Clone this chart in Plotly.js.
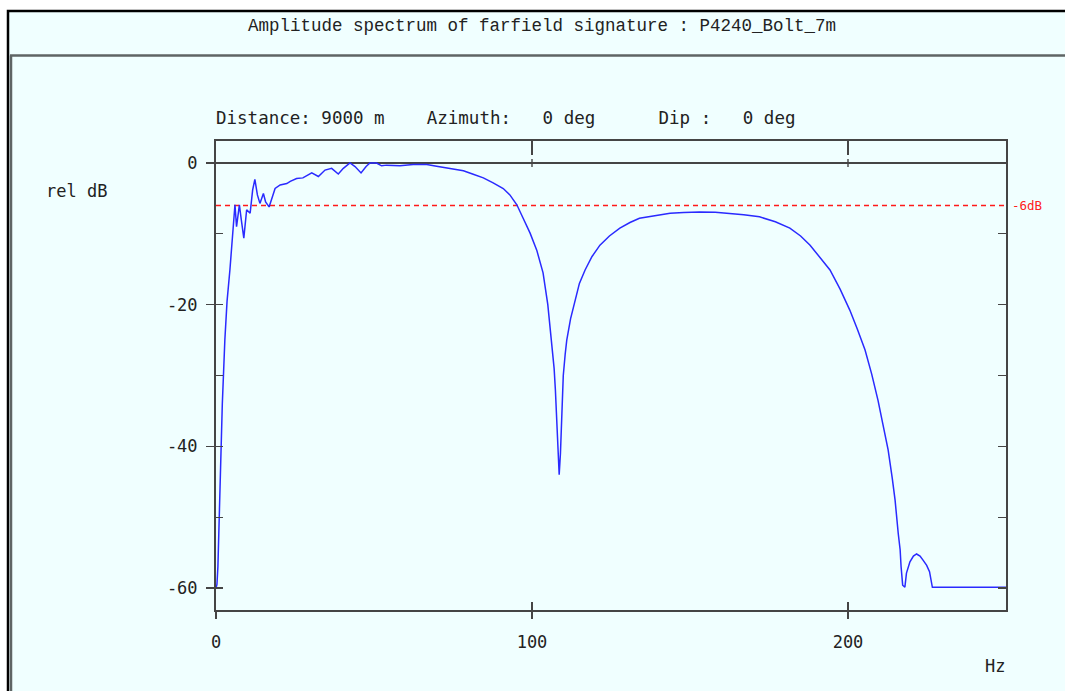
<!DOCTYPE html>
<html>
<head>
<meta charset="utf-8">
<script src="https://cdn.plot.ly/plotly-3.0.1.min.js"></script>
<style>html,body{margin:0;padding:0;background:#fff;}#chart{width:1065px;height:691px;}</style>
</head>
<body>
<div id="chart"></div>
<script>
// ---- data ----
const freqHz = [0, 0.3, 0.6, 0.9, 1.3, 2.0, 2.8, 3.5, 4.4, 5.2, 6.0, 6.5, 7.0, 7.4, 8.0, 8.8, 9.7, 10.8, 11.6, 12.3, 13.1, 13.9, 15.0, 15.7, 16.8, 17.6, 18.7, 20.3, 22.4, 23.5, 24.5, 25.5, 27.5, 29.0, 30.3, 32.4, 34.5, 36.6, 38.7, 40.3, 42.4, 44.0, 45.9, 47.5, 48.7, 50.8, 52.4, 54.0, 58.2, 62.4, 66.7, 69.8, 74.0, 78.3, 81.4, 84.6, 87.7, 90.9, 93.0, 95.2, 97.2, 99.4, 101.5, 103.5, 105.0, 106.2, 107.0, 107.4, 107.8, 108.2, 108.6, 109.0, 109.3, 109.6, 109.9, 110.5, 111.0, 112.2, 113.6, 115.0, 116.8, 119.0, 121.5, 124.5, 127.8, 131.0, 134.0, 139.0, 143.7, 148.0, 153.0, 158.0, 162.7, 167.0, 172.0, 177.0, 181.6, 185.0, 188.0, 191.0, 194.3, 197.5, 200.6, 203.0, 205.4, 207.5, 209.5, 211.0, 212.7, 214.0, 214.9, 215.9, 216.5, 216.8, 217.3, 218.0, 218.5, 219.6, 220.7, 221.7, 222.8, 223.8, 224.9, 225.8, 226.2, 226.7, 250];
const relDb = [-60, -59.5, -57, -52, -44, -34, -25, -19.5, -15.1, -10.4, -5.9, -9.0, -7.0, -5.9, -8.0, -10.6, -6.6, -7.1, -3.8, -2.3, -4.5, -5.7, -4.3, -5.5, -6.2, -5.2, -3.6, -3.1, -2.9, -2.6, -2.4, -2.2, -2.1, -1.7, -1.4, -1.9, -1.0, -0.75, -1.55, -0.75, 0, -0.5, -1.4, -0.5, 0, 0, -0.4, -0.3, -0.4, -0.2, -0.2, -0.45, -0.75, -1.1, -1.6, -2.1, -2.8, -3.6, -4.5, -5.9, -7.8, -9.9, -12.3, -15.5, -20, -25, -29, -32, -36, -40, -44, -41, -37, -33, -30, -27, -25, -22, -19.3, -17, -15.1, -13.2, -11.6, -10.3, -9.2, -8.4, -7.8, -7.4, -7.1, -7.0, -6.9, -6.95, -7.1, -7.3, -7.6, -8.3, -9.2, -10.3, -11.6, -13.2, -15.1, -17.8, -20.8, -23.5, -26.4, -29.8, -33.5, -36.8, -40.5, -44.5, -47.6, -52.3, -54.6, -57, -59.6, -59.9, -57.9, -56.3, -55.5, -55.2, -55.5, -56.1, -56.8, -57.7, -58.6, -59.9, -59.9];
const refFreq = [0, 250];
const refDb = [-6, -6];
const xTickVals = [0, 100, 200];
const xTickText = ['0', '100', '200'];
const yLabelVals = [-60, -40, -20, 0];
const yLabelText = ['-60', '-40', '-20', '0'];
const yMinorVals = [-60, -50, -40, -30, -20, -10, 0];
const titleText = 'Amplitude spectrum of farfield signature : P4240_Bolt_7m';
const subText = 'Distance: 9000 m\u00A0\u00A0\u00A0\u00A0Azimuth:\u00A0\u00A0\u00A00 deg\u00A0\u00A0\u00A0\u00A0\u00A0\u00A0Dip :\u00A0\u00A0\u00A00 deg';

// ---- layout helpers (pixel -> paper) ----
const L = 216, R = 1006, T = 141, B = 610;
const W = R - L, H = B - T;
const px = v => (v - L) / W;
const py = v => (B - v) / H;
const xRange = [0, 250];
const yRange = [-60 - 22 / (425 / 60), 22 / (425 / 60)];

const mono = 'DejaVu Sans Mono, monospace';
const txt = '#222222';
const axCol = '#454545';
const bg = '#F0FFFF';

const traces = [
  {x: refFreq, y: refDb, type: 'scatter', mode: 'lines', line: {color: '#ff1a1a', width: 1.3, dash: '5px,4px'}, xaxis: 'x', yaxis: 'y', hoverinfo: 'skip'},
  {x: freqHz, y: relDb, type: 'scatter', mode: 'lines', line: {color: '#2a2aff', width: 1.5}, xaxis: 'x', yaxis: 'y', hoverinfo: 'skip'},
  {x: [null], y: [null], type: 'scatter', mode: 'lines', xaxis: 'x2', yaxis: 'y2', hoverinfo: 'skip'},
  {x: [null], y: [null], type: 'scatter', mode: 'lines', xaxis: 'x3', yaxis: 'y3', hoverinfo: 'skip'}
];

const layout = {
  width: 1065, height: 691,
  margin: {l: L, r: 1065 - R, t: T, b: 691 - B, pad: 0},
  paper_bgcolor: '#ffffff',
  plot_bgcolor: bg,
  showlegend: false,
  title: {text: titleText, font: {family: 'Liberation Mono, monospace', size: 17.5, color: txt},
          xref: 'container', yref: 'container', x: 542 / 1065, xanchor: 'center', y: 1 - 25 / 691, yanchor: 'middle'},
  xaxis: {range: xRange, tickmode: 'array', tickvals: xTickVals, ticktext: xTickText,
          ticks: 'outside', ticklen: 7, tickwidth: 1.2, tickcolor: axCol,
          showline: true, linecolor: axCol, linewidth: 2, mirror: true,
          showgrid: false, zeroline: false, ticklabelstandoff: 9,
          tickfont: {family: mono, size: 17, color: txt}},
  yaxis: {range: yRange, tickmode: 'array', tickvals: yLabelVals, ticktext: yLabelText,
          ticks: 'outside', ticklen: 8, tickwidth: 1.2, tickcolor: axCol,
          showline: true, linecolor: axCol, linewidth: 2, mirror: true,
          showgrid: false, zeroline: true, zerolinecolor: axCol, zerolinewidth: 1.6,
          ticklabelstandoff: 5,
          tickfont: {family: mono, size: 17, color: txt}},
  xaxis2: {range: xRange, overlaying: 'x', anchor: 'y2', side: 'bottom', tickmode: 'array', tickvals: xTickVals,
           ticks: 'inside', ticklen: 8, tickwidth: 1.2, tickcolor: axCol, showticklabels: false,
           showline: false, showgrid: false, zeroline: false},
  yaxis2: {range: yRange, overlaying: 'y', anchor: 'x2', side: 'left', tickmode: 'array', tickvals: yMinorVals,
           ticks: 'inside', ticklen: 7, tickwidth: 1.2, tickcolor: axCol, showticklabels: false,
           showline: false, showgrid: false, zeroline: false},
  xaxis3: {range: xRange, overlaying: 'x', anchor: 'y3', side: 'top', tickmode: 'array', tickvals: xTickVals,
           ticks: 'inside', ticklen: 14, tickwidth: 1.4, tickcolor: axCol, showticklabels: false,
           showline: false, showgrid: false, zeroline: false},
  yaxis3: {range: yRange, overlaying: 'y', anchor: 'x3', side: 'right', tickmode: 'array', tickvals: yMinorVals,
           ticks: 'inside', ticklen: 8, tickwidth: 1.2, tickcolor: axCol, showticklabels: false,
           showline: false, showgrid: false, zeroline: false},
  shapes: [
    {type: 'rect', xref: 'paper', yref: 'paper', layer: 'below', x0: px(8), x1: px(1080), y0: py(710), y1: py(11),
     fillcolor: bg, line: {color: '#000000', width: 2.5}},
    {type: 'line', xref: 'paper', yref: 'paper', x0: px(10), x1: px(1080), y0: py(55.5), y1: py(55.5), line: {color: '#5f6565', width: 2.5}},
    {type: 'line', xref: 'paper', yref: 'paper', x0: px(11), x1: px(11), y0: py(55.5), y1: py(710), line: {color: '#5f6565', width: 2.5}},
    {type: 'line', xref: 'x', yref: 'y', ysizemode: 'pixel', yanchor: 0, x0: 100, x1: 100, y0: -4, y1: 4, line: {color: axCol, width: 1.4}},
    {type: 'line', xref: 'x', yref: 'y', ysizemode: 'pixel', yanchor: 0, x0: 200, x1: 200, y0: -4, y1: 4, line: {color: axCol, width: 1.4}}
  ],
  annotations: [
    {text: subText, xref: 'paper', yref: 'paper', x: px(214), y: py(118), xanchor: 'left', yanchor: 'middle', showarrow: false,
     font: {family: mono, size: 17.5, color: txt}},
    {text: 'rel dB', xref: 'paper', yref: 'paper', x: px(76), y: py(191), xanchor: 'center', yanchor: 'middle', showarrow: false,
     font: {family: mono, size: 17, color: txt}},
    {text: 'Hz', xref: 'paper', yref: 'paper', x: px(995), y: py(666), xanchor: 'center', yanchor: 'middle', showarrow: false,
     font: {family: mono, size: 17, color: txt}},
    {text: '-6dB', xref: 'paper', yref: 'y', x: px(1010), y: -6, xanchor: 'left', yanchor: 'middle', showarrow: false,
     font: {family: mono, size: 12.5, color: '#ff2020'}}
  ]
};

Plotly.newPlot('chart', traces, layout, {staticPlot: true, displayModeBar: false});
</script>
</body>
</html>
